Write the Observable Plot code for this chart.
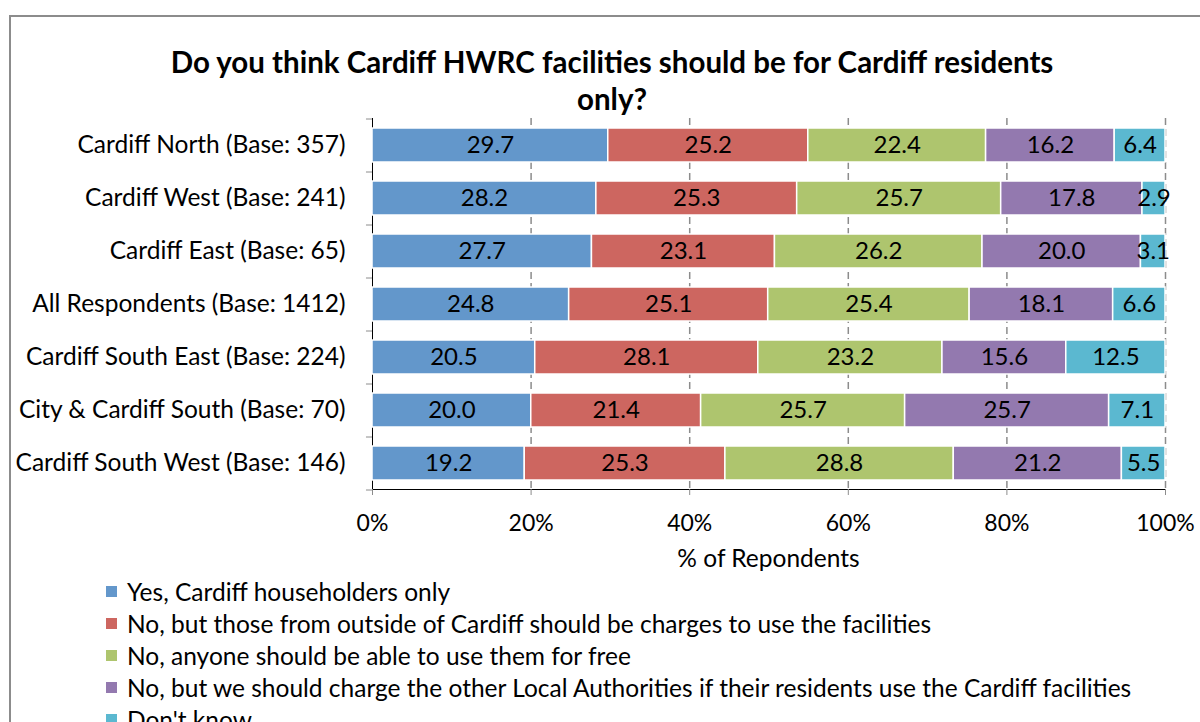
<!DOCTYPE html>
<html><head><meta charset="utf-8">
<script src="https://cdn.jsdelivr.net/npm/d3@7"></script>
<script src="https://cdn.jsdelivr.net/npm/@observablehq/plot@0.6"></script>
<style>
body{margin:0;width:1200px;height:722px;overflow:hidden;background:#fff;font-family:Lato,sans-serif;position:relative;color:#000}
#frame{position:absolute;left:9px;top:15px;width:1300px;height:800px;border-top:2px solid #8c8c8c;border-left:2px solid #8c8c8c}
#title{position:absolute;left:62px;width:1100px;top:43px;text-align:center;font-weight:bold;font-size:29.5px;line-height:37px}
#chart{position:absolute;left:0;top:0}
#xlabel{position:absolute;left:372px;width:793px;top:543px;text-align:center;font-size:24.5px;line-height:30px}
#legend{position:absolute;left:106px;top:575px}
.item{height:32px;display:flex;align-items:center;font-size:24.5px;white-space:nowrap}
.sw{width:11px;height:11px;margin-right:10px;flex:none}
.chart [aria-label^="x-axis"] path,.chart [aria-label^="x-axis"] line,.chart [aria-label^="y-axis"] path,.chart [aria-label^="y-axis"] line{stroke:#8c8c8c}
</style>
</head><body>
<div id="frame"></div>
<div id="chart"></div>
<div id="title">Do you think Cardiff HWRC facilities should be for Cardiff residents<br>only?</div>
<div id="xlabel">% of Repondents</div>
<div id="legend"></div>
<script>
const categories = [
  "Cardiff North (Base: 357)",
  "Cardiff West (Base: 241)",
  "Cardiff East (Base: 65)",
  "All Respondents (Base: 1412)",
  "Cardiff South East (Base: 224)",
  "City & Cardiff South (Base: 70)",
  "Cardiff South West (Base: 146)"
];
const seriesNames = [
  "Yes, Cardiff householders only",
  "No, but those from outside of Cardiff should be charges to use the facilities",
  "No, anyone should be able to use them for free",
  "No, but we should charge the other Local Authorities if their residents use the Cardiff facilities",
  "Don't know"
];
const yesOnly   = [29.7, 28.2, 27.7, 24.8, 20.5, 20.0, 19.2];
const chargeOut = [25.2, 25.3, 23.1, 25.1, 28.1, 21.4, 25.3];
const freeAll   = [22.4, 25.7, 26.2, 25.4, 23.2, 25.7, 28.8];
const chargeLA  = [16.2, 17.8, 20.0, 18.1, 15.6, 25.7, 21.2];
const dontKnow  = [6.4, 2.9, 3.1, 6.6, 12.5, 7.1, 5.5];
const colors = ["#6397cb", "#cd6660", "#aec56e", "#9379af", "#5bb8d0"];
const xTicks = [0, 0.2, 0.4, 0.6, 0.8, 1];
const gridTicks = [0.2, 0.4, 0.6, 0.8, 1];

const seriesValues = [yesOnly, chargeOut, freeAll, chargeLA, dontKnow];
const rows = [];
seriesNames.forEach((s, j) => categories.forEach((c, i) => rows.push({cat: c, series: s, value: seriesValues[j][i]})));

const grey = "#8c8c8c";
const chart = Plot.plot({
  width: 1200, height: 570,
  marginTop: 118, marginBottom: 81, marginLeft: 372, marginRight: 35,
  className: "chart",
  style: {fontFamily: "Lato, sans-serif", fontSize: "23px", color: "#000", background: "transparent", overflow: "visible"},
  x: {domain: [0, 1], ticks: xTicks, tickFormat: d3.format(".0%"), tickSize: 6, tickPadding: 19, label: null, line: true},
  y: {domain: categories, paddingInner: 0.36, paddingOuter: 0.18, tickSize: 0, tickPadding: 27, label: null, line: true, fontSize: 24.5},
  color: {domain: seriesNames, range: colors},
  marks: [
    Plot.ruleX(gridTicks, {stroke: grey, strokeWidth: 1.5, strokeDasharray: "7,4"}),
    Plot.barX(rows, Plot.stackX({x: "value", y: "cat", fill: "series", offset: "normalize", stroke: "white", strokeWidth: 1.5})),
    Plot.text(rows, Plot.stackX({x: "value", y: "cat", z: "series", offset: "normalize", text: d => d.value.toFixed(1), fill: "black", fontSize: 24})),
    Plot.ruleY(categories, {y: d => d, dy: -26.5, x1: -0.0076, x2: 0, stroke: grey}),
    Plot.ruleY(categories.slice(-1), {y: d => d, dy: 26.5, x1: -0.0076, x2: 0, stroke: grey})
  ]
});
document.getElementById("chart").append(chart);
chart.querySelectorAll('[aria-label^="y-axis"] text').forEach(t => t.style.fontSize = "24.5px");

const legend = document.getElementById("legend");
seriesNames.forEach((s, j) => {
  const it = document.createElement("div");
  it.className = "item";
  const sw = document.createElement("span");
  sw.className = "sw";
  sw.style.background = colors[j];
  const t = document.createElement("span");
  t.textContent = s;
  it.append(sw, t);
  legend.append(it);
});
</script>
</body></html>
